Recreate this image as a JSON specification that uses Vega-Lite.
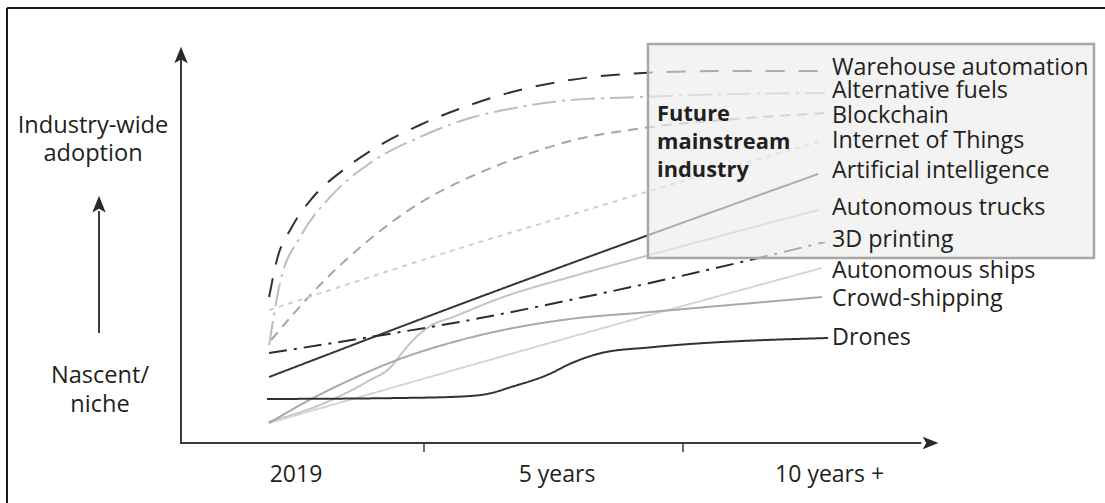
{
  "$schema": "https://vega.github.io/schema/vega-lite/v6.json",
  "width": 1105,
  "height": 503,
  "padding": 0,
  "autosize": {"type": "none"},
  "background": "white",
  "config": {"view": {"stroke": null}},
  "datasets": {
    "lines": [
      {"tech": "Warehouse automation", "t": 2.01, "a": 36.5},
      {"tech": "Warehouse automation", "t": 2.16, "a": 45.75},
      {"tech": "Warehouse automation", "t": 2.45, "a": 54},
      {"tech": "Warehouse automation", "t": 2.86, "a": 61.5},
      {"tech": "Warehouse automation", "t": 3.44, "a": 68.25},
      {"tech": "Warehouse automation", "t": 4.09, "a": 74},
      {"tech": "Warehouse automation", "t": 4.92, "a": 79.5},
      {"tech": "Warehouse automation", "t": 5.89, "a": 84.5},
      {"tech": "Warehouse automation", "t": 6.85, "a": 88.25},
      {"tech": "Warehouse automation", "t": 7.82, "a": 90.75},
      {"tech": "Warehouse automation", "t": 9.23, "a": 92.5},
      {"tech": "Warehouse automation", "t": 10.91, "a": 93},
      {"tech": "Warehouse automation", "t": 12.74, "a": 93},
      {"tech": "Alternative fuels", "t": 2.01, "a": 24.5},
      {"tech": "Alternative fuels", "t": 2.22, "a": 40},
      {"tech": "Alternative fuels", "t": 2.61, "a": 51.5},
      {"tech": "Alternative fuels", "t": 3.19, "a": 61.5},
      {"tech": "Alternative fuels", "t": 3.96, "a": 70},
      {"tech": "Alternative fuels", "t": 4.92, "a": 76.5},
      {"tech": "Alternative fuels", "t": 5.89, "a": 81.25},
      {"tech": "Alternative fuels", "t": 6.85, "a": 84},
      {"tech": "Alternative fuels", "t": 7.82, "a": 85.75},
      {"tech": "Alternative fuels", "t": 9.23, "a": 86.5},
      {"tech": "Alternative fuels", "t": 10.91, "a": 87.25},
      {"tech": "Alternative fuels", "t": 12.74, "a": 87.5},
      {"tech": "Blockchain", "t": 2.05, "a": 25.75},
      {"tech": "Blockchain", "t": 2.36, "a": 30.5},
      {"tech": "Blockchain", "t": 2.99, "a": 39.5},
      {"tech": "Blockchain", "t": 3.96, "a": 51},
      {"tech": "Blockchain", "t": 4.92, "a": 60},
      {"tech": "Blockchain", "t": 5.89, "a": 66.5},
      {"tech": "Blockchain", "t": 6.85, "a": 71.5},
      {"tech": "Blockchain", "t": 7.82, "a": 75.5},
      {"tech": "Blockchain", "t": 9.23, "a": 78.75},
      {"tech": "Blockchain", "t": 10.91, "a": 80.9},
      {"tech": "Blockchain", "t": 12.74, "a": 82.5},
      {"tech": "Internet of Things", "t": 2.01, "a": 33.25},
      {"tech": "Internet of Things", "t": 3.96, "a": 41.5},
      {"tech": "Internet of Things", "t": 5.89, "a": 49.5},
      {"tech": "Internet of Things", "t": 7.82, "a": 57},
      {"tech": "Internet of Things", "t": 9.23, "a": 62.5},
      {"tech": "Internet of Things", "t": 12.74, "a": 75.75},
      {"tech": "Artificial intelligence", "t": 2.01, "a": 16.5},
      {"tech": "Artificial intelligence", "t": 5.89, "a": 35.6},
      {"tech": "Artificial intelligence", "t": 9.23, "a": 51.5},
      {"tech": "Artificial intelligence", "t": 12.61, "a": 67.25},
      {"tech": "Autonomous trucks", "t": 1.99, "a": 5.25},
      {"tech": "Autonomous trucks", "t": 2.99, "a": 9.5},
      {"tech": "Autonomous trucks", "t": 3.96, "a": 15.75},
      {"tech": "Autonomous trucks", "t": 4.34, "a": 18.75},
      {"tech": "Autonomous trucks", "t": 4.59, "a": 22.75},
      {"tech": "Autonomous trucks", "t": 4.83, "a": 26.25},
      {"tech": "Autonomous trucks", "t": 5.12, "a": 29.25},
      {"tech": "Autonomous trucks", "t": 5.56, "a": 31.5},
      {"tech": "Autonomous trucks", "t": 6.53, "a": 36.5},
      {"tech": "Autonomous trucks", "t": 7.82, "a": 41.5},
      {"tech": "Autonomous trucks", "t": 9.36, "a": 47},
      {"tech": "Autonomous trucks", "t": 12.61, "a": 58.25},
      {"tech": "3D printing", "t": 2.01, "a": 22.5},
      {"tech": "3D printing", "t": 3.96, "a": 26.5},
      {"tech": "3D printing", "t": 5.89, "a": 30.75},
      {"tech": "3D printing", "t": 7.82, "a": 35.75},
      {"tech": "3D printing", "t": 9.36, "a": 40},
      {"tech": "3D printing", "t": 12.74, "a": 50.25},
      {"tech": "Autonomous ships", "t": 2.01, "a": 5},
      {"tech": "Autonomous ships", "t": 9.36, "a": 32},
      {"tech": "Autonomous ships", "t": 12.68, "a": 43.75},
      {"tech": "Crowd-shipping", "t": 2.01, "a": 5},
      {"tech": "Crowd-shipping", "t": 2.61, "a": 9.5},
      {"tech": "Crowd-shipping", "t": 3.57, "a": 15.75},
      {"tech": "Crowd-shipping", "t": 4.48, "a": 20.75},
      {"tech": "Crowd-shipping", "t": 5.5, "a": 25},
      {"tech": "Crowd-shipping", "t": 6.53, "a": 28.25},
      {"tech": "Crowd-shipping", "t": 7.82, "a": 31},
      {"tech": "Crowd-shipping", "t": 9.36, "a": 32.75},
      {"tech": "Crowd-shipping", "t": 12.68, "a": 36.5},
      {"tech": "Drones", "t": 1.97, "a": 11},
      {"tech": "Drones", "t": 4.54, "a": 11.25},
      {"tech": "Drones", "t": 5.69, "a": 11.6},
      {"tech": "Drones", "t": 6.27, "a": 12.4},
      {"tech": "Drones", "t": 6.66, "a": 13.9},
      {"tech": "Drones", "t": 7.43, "a": 17.3},
      {"tech": "Drones", "t": 7.82, "a": 19.8},
      {"tech": "Drones", "t": 8.46, "a": 22.6},
      {"tech": "Drones", "t": 9.36, "a": 23.9},
      {"tech": "Drones", "t": 12.8, "a": 26.25}
    ],
    "labels": [
      {"label": "Warehouse automation", "t": 12.876, "a": 92},
      {"label": "Alternative fuels", "t": 12.876, "a": 86.2},
      {"label": "Blockchain", "t": 12.876, "a": 80.1},
      {"label": "Internet of Things", "t": 12.876, "a": 73.7},
      {"label": "Artificial intelligence", "t": 12.876, "a": 66.2},
      {"label": "Autonomous trucks", "t": 12.876, "a": 57},
      {"label": "3D printing", "t": 12.876, "a": 49.1},
      {"label": "Autonomous ships", "t": 12.876, "a": 41.2},
      {"label": "Crowd-shipping", "t": 12.876, "a": 34.25},
      {"label": "Drones", "t": 12.876, "a": 24.5}
    ],
    "boldLabels": [
      {"label": "Future", "t": 9.5, "a": 80.6},
      {"label": "mainstream", "t": 9.5, "a": 73.4},
      {"label": "industry", "t": 9.5, "a": 66.6}
    ],
    "sideLabels": [
      {"label": "Industry-wide", "t": -1.39, "a": 77.4},
      {"label": "adoption", "t": -1.39, "a": 70.6},
      {"label": "Nascent/", "t": -1.255, "a": 14.9},
      {"label": "niche", "t": -1.255, "a": 7.8}
    ],
    "axisLabels": [
      {"label": "2019", "t": 2.529, "a": -9.75},
      {"label": "5 years", "t": 7.568, "a": -9.75},
      {"label": "10 years +", "t": 12.83, "a": -9.75}
    ],
    "box": [{"t": 9.324, "t2": 17.934, "a": 99.75, "a2": 46.25}],
    "frame": [
      {"t": -3.05, "t2": 18.1467, "a": 108.75, "a2": 108.75},
      {"t": -3.05, "t2": -3.05, "a": 108.75, "a2": -15}
    ],
    "axes": [
      {"t": 0.309, "t2": 0.309, "a": 0, "a2": 96},
      {"t": 0.29, "t2": 14.6, "a": 0, "a2": 0},
      {"t": -1.274, "t2": -1.274, "a": 27.5, "a2": 58}
    ],
    "ticks": [
      {"t": 5, "t2": 5, "a": 0, "a2": -2.25},
      {"t": 10, "t2": 10, "a": 0, "a2": -2.25}
    ],
    "upHeads": [
      {"t": 0.309, "a": 97},
      {"t": -1.274, "a": 59.7}
    ],
    "rightHeads": [
      {"t": 14.78, "a": 0}
    ]
  },
  "layer": [
    {
      "data": {"name": "lines"},
      "mark": {"type": "line", "interpolate": "monotone", "strokeWidth": 2},
      "encoding": {
        "x": {"field": "t", "type": "quantitative", "scale": {"domain": [-3.1853, 18.1467], "nice": false, "zero": false}, "axis": null},
        "y": {"field": "a", "type": "quantitative", "scale": {"domain": [-15, 110.75], "nice": false, "zero": false}, "axis": null},
        "detail": {"field": "tech"},
        "color": {
          "field": "tech", "type": "nominal", "legend": null,
          "scale": {
            "domain": ["Warehouse automation", "Alternative fuels", "Blockchain", "Internet of Things", "Artificial intelligence", "Autonomous trucks", "3D printing", "Autonomous ships", "Crowd-shipping", "Drones"],
            "range": ["#333333", "#bdbdbd", "#a6a6a6", "#cfcfcf", "#363636", "#c4c4c4", "#2b2b2b", "#d6d6d6", "#a9a9a9", "#333333"]
          }
        },
        "strokeDash": {
          "field": "tech", "type": "nominal", "legend": null,
          "scale": {
            "domain": ["Warehouse automation", "Alternative fuels", "Blockchain", "Internet of Things", "Artificial intelligence", "Autonomous trucks", "3D printing", "Autonomous ships", "Crowd-shipping", "Drones"],
            "range": [[19, 14], [24, 6, 3, 6], [10, 7], [5, 5], [1, 0], [1, 0], [18, 7, 3, 7], [1, 0], [1, 0], [1, 0]]
          }
        }
      }
    },
    {
      "data": {"name": "box"},
      "mark": {"type": "rect", "fill": "#ececec", "fillOpacity": 0.65, "stroke": "#a8a8a8", "strokeWidth": 2.5},
      "encoding": {
        "x": {"field": "t", "type": "quantitative"},
        "x2": {"field": "t2"},
        "y": {"field": "a", "type": "quantitative"},
        "y2": {"field": "a2"}
      }
    },
    {
      "data": {"name": "frame"},
      "mark": {"type": "rule", "color": "#1a1a1a", "strokeWidth": 2},
      "encoding": {
        "x": {"field": "t", "type": "quantitative"},
        "x2": {"field": "t2"},
        "y": {"field": "a", "type": "quantitative"},
        "y2": {"field": "a2"}
      }
    },
    {
      "data": {"name": "axes"},
      "mark": {"type": "rule", "color": "#3a3a3a", "strokeWidth": 2},
      "encoding": {
        "x": {"field": "t", "type": "quantitative"},
        "x2": {"field": "t2"},
        "y": {"field": "a", "type": "quantitative"},
        "y2": {"field": "a2"}
      }
    },
    {
      "data": {"name": "ticks"},
      "mark": {"type": "rule", "color": "#3a3a3a", "strokeWidth": 1.5},
      "encoding": {
        "x": {"field": "t", "type": "quantitative"},
        "x2": {"field": "t2"},
        "y": {"field": "a", "type": "quantitative"},
        "y2": {"field": "a2"}
      }
    },
    {
      "data": {"name": "upHeads"},
      "mark": {"type": "point", "shape": "M0,-1L0.8,1L0,0.55L-0.8,1Z", "size": 280, "filled": true, "color": "#2a2a2a", "opacity": 1},
      "encoding": {
        "x": {"field": "t", "type": "quantitative"},
        "y": {"field": "a", "type": "quantitative"}
      }
    },
    {
      "data": {"name": "rightHeads"},
      "mark": {"type": "point", "shape": "M1,0L-1,0.8L-0.55,0L-1,-0.8Z", "size": 250, "filled": true, "color": "#2a2a2a", "opacity": 1},
      "encoding": {
        "x": {"field": "t", "type": "quantitative"},
        "y": {"field": "a", "type": "quantitative"}
      }
    },
    {
      "data": {"name": "labels"},
      "mark": {"type": "text", "align": "left", "baseline": "alphabetic", "font": "Open Sans", "fontSize": 23.3, "color": "#231f20"},
      "encoding": {
        "x": {"field": "t", "type": "quantitative"},
        "y": {"field": "a", "type": "quantitative"},
        "text": {"field": "label"}
      }
    },
    {
      "data": {"name": "boldLabels"},
      "mark": {"type": "text", "align": "left", "baseline": "alphabetic", "font": "Open Sans", "fontSize": 21.8, "fontWeight": "bold", "color": "#231f20"},
      "encoding": {
        "x": {"field": "t", "type": "quantitative"},
        "y": {"field": "a", "type": "quantitative"},
        "text": {"field": "label"}
      }
    },
    {
      "data": {"name": "sideLabels"},
      "mark": {"type": "text", "align": "center", "baseline": "alphabetic", "font": "Open Sans", "fontSize": 23.6, "color": "#231f20"},
      "encoding": {
        "x": {"field": "t", "type": "quantitative"},
        "y": {"field": "a", "type": "quantitative"},
        "text": {"field": "label"}
      }
    },
    {
      "data": {"name": "axisLabels"},
      "mark": {"type": "text", "align": "center", "baseline": "alphabetic", "font": "Open Sans", "fontSize": 23, "color": "#231f20"},
      "encoding": {
        "x": {"field": "t", "type": "quantitative"},
        "y": {"field": "a", "type": "quantitative"},
        "text": {"field": "label"}
      }
    }
  ]
}
